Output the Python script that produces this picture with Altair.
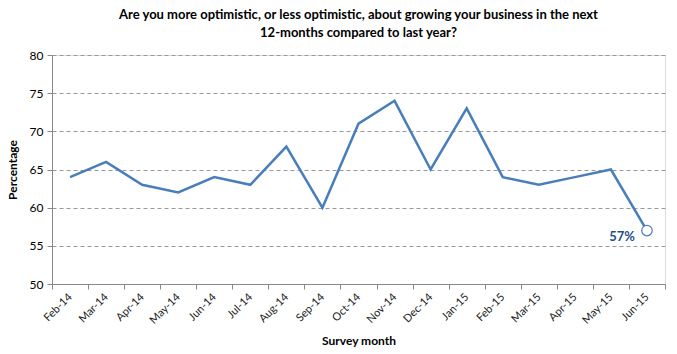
import altair as alt
import pandas as pd

months = ["Feb-14", "Mar-14", "Apr-14", "May-14", "Jun-14", "Jul-14", "Aug-14", "Sep-14",
          "Oct-14", "Nov-14", "Dec-14", "Jan-15", "Feb-15", "Mar-15", "Apr-15", "May-15", "Jun-15"]
values = [64, 66, 63, 62, 64, 63, 68, 60, 71, 74, 65, 73, 64, 63, 64, 65, 57]
y_ticks = [50, 55, 60, 65, 70, 75, 80]

df = pd.DataFrame({"month": months, "value": values})
last = df.tail(1).copy()
last["label"] = "57%"

FONT = "Lato"
BLUE = "#4A7EBB"

x = alt.X("month:N", sort=months, title="Survey month",
          scale=alt.Scale(type="band", paddingInner=0, paddingOuter=0),
          axis=alt.Axis(labelAngle=-45, labelAlign="right", labelBaseline="middle",
                        tickBand="extent", labelFontSize=11, labelColor="#222",
                        labelFont=FONT, titleFont=FONT, titleFontSize=12,
                        titleFontWeight="bold", titleColor="#000", titlePadding=10,
                        domainColor="#888", tickColor="#888", tickSize=5,
                        labelPadding=6, grid=False), bandPosition=0.5)
y = alt.Y("value:Q", title="Percentage",
          scale=alt.Scale(domain=[50, 80], nice=False, zero=False),
          axis=alt.Axis(values=y_ticks, labelOverlap=False, labelFontSize=12,
                        labelColor="#000", labelFont=FONT, titleFont=FONT,
                        titleFontSize=12, titleFontWeight="bold", titleColor="#000",
                        titlePadding=10, domainColor="#888", tickColor="#888",
                        tickSize=5, labelPadding=4, gridColor="#999",
                        gridDash=[4, 3], gridWidth=1))

line = alt.Chart(df).mark_line(color=BLUE, strokeWidth=2.5).encode(x=x, y=y)

pt = alt.Chart(last).mark_point(shape="circle", size=110, filled=True, fill="white",
                                stroke=BLUE, strokeWidth=1.2, opacity=1).encode(x=x, y=y)

txt = alt.Chart(last).mark_text(align="right", baseline="middle", dx=-12, dy=6,
                                font=FONT, fontSize=13, fontWeight="bold",
                                color="#1F4E8C").encode(x=x, y=y, text="label:N")

chart = alt.layer(line, pt, txt).properties(
    width=613, height=229,
    autosize=alt.AutoSizeParams(type="none"),
    padding={"left": 52, "top": 55, "right": 12, "bottom": 70},
    title=alt.TitleParams(
        ["Are you more optimistic, or less optimistic, about growing your business in the next",
         "12-months compared to last year?"],
        font=FONT, fontSize=13, fontWeight="bold", color="#000", anchor="middle",
        offset=9, lineHeight=18),
).configure_view(stroke=None).configure(background="white")

chart.save("out.html", embed_options={"renderer": "svg", "actions": False})
